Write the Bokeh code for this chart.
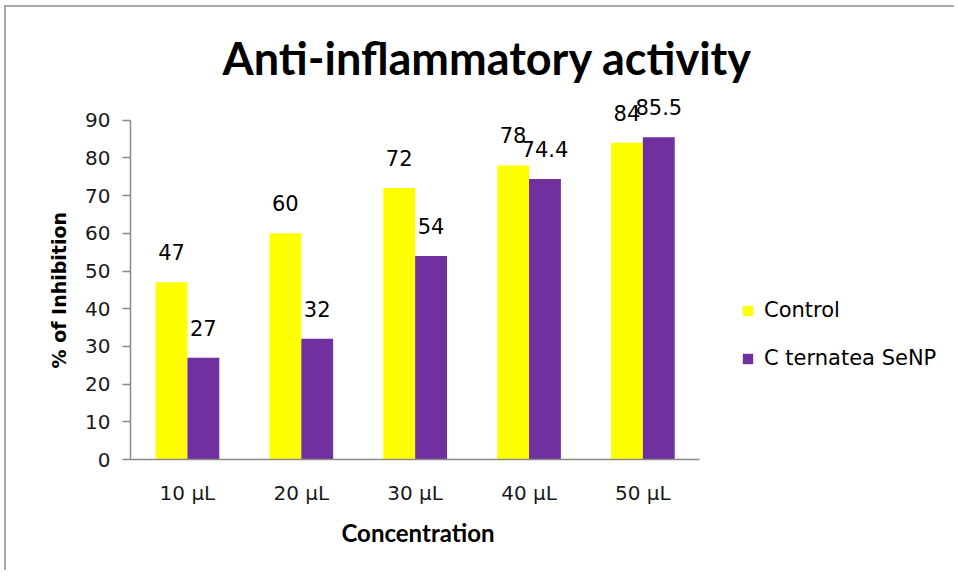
from bokeh.plotting import figure
from bokeh.models import (ColumnDataSource, Range1d, FixedTicker, Legend, LegendItem,
                          LabelSet, Title, InlineStyleSheet)
from bokeh.core.properties import value
from bokeh.transform import dodge
from bokeh.embed import file_html
from bokeh.resources import INLINE

categories = ["10 µL", "20 µL", "30 µL", "40 µL", "50 µL"]
control = [47, 60, 72, 78, 84]
senp = [27, 32, 54, 74.4, 85.5]
control_labels = ["47", "60", "72", "78", "84"]
senp_labels = ["27", "32", "54", "74.4", "85.5"]
y_ticks = [0, 10, 20, 30, 40, 50, 60, 70, 80, 90]

pos = [i + 0.5 for i in range(len(categories))]
src = ColumnDataSource(dict(x=pos, control=control, senp=senp,
                            cl=control_labels, sl=senp_labels))

W, H = 950, 565
left, bottom, top = 124, 113, 75
cat_px = 113.86
x_end = (W - left) / cat_px

css = InlineStyleSheet(css=":host { margin-left: 6px; margin-top: 7px; "
                           "box-shadow: -2px -2px 0px 0px #a8a8a8; }")

p = figure(x_range=Range1d(0, x_end), y_range=Range1d(0, 100), width=W, height=H,
           output_backend="svg", toolbar_location=None,
           min_border_left=left, min_border_right=0, min_border_top=top,
           min_border_bottom=bottom, title="Anti-inflammatory activity",
           stylesheets=[css])

p.title.text_font = "Lato"
p.title.text_font_style = "bold"
p.title.text_font_size = "45px"
p.title.align = "left"
p.title.offset = 92
p.title.standoff = -4
p.title.text_color = "#000000"

p.outline_line_color = None
p.xgrid.grid_line_color = None
p.ygrid.grid_line_color = None
p.background_fill_color = "white"
p.border_fill_color = "white"

w = 0.28
r1 = p.vbar(x=dodge("x", -0.14), top="control", width=w, source=src,
            fill_color="#FFFF00", line_color=None)
r2 = p.vbar(x=dodge("x", 0.14), top="senp", width=w, source=src,
            fill_color="#7030A0", line_color=None)

for xo, col, lab in [(-0.14, "control", "cl"), (0.14, "senp", "sl")]:
    ls = LabelSet(x=dodge("x", xo), y=col, text=lab, source=src,
                  y_offset=22, text_align="center", text_baseline="alphabetic",
                  text_font=value("DejaVu Sans"), text_font_size="21px",
                  text_color="#000000")
    p.add_layout(ls)

ya = p.yaxis[0]
ya.ticker = FixedTicker(ticks=y_ticks)
ya.bounds = (0, 90)
ya.axis_line_color = "#8a8a8a"
ya.axis_line_width = 1.5
ya.major_tick_line_color = "#8a8a8a"
ya.major_tick_line_width = 1.5
ya.major_tick_out = 8
ya.major_tick_in = 0
ya.minor_tick_line_color = None
ya.major_label_text_font = "DejaVu Sans"
ya.major_label_text_font_size = "20px"
ya.major_label_text_color = "#1a1a1a"
ya.major_label_standoff = 12

xa = p.xaxis[0]
xa.ticker = FixedTicker(ticks=pos)
xa.major_label_overrides = {x: c for x, c in zip(pos, categories)}
xa.bounds = (0, len(categories))
xa.axis_line_color = "#8a8a8a"
xa.axis_line_width = 1.5
xa.major_tick_line_color = None
xa.minor_tick_line_color = None
xa.major_tick_out = 0
xa.major_tick_in = 0
xa.major_label_text_font = "DejaVu Sans"
xa.major_label_text_font_size = "20px"
xa.major_label_text_color = "#1a1a1a"
xa.major_label_standoff = 21

ytitle = Title(text="% of Inhibition", align="left", offset=91, standoff=25,
               text_font="DejaVu Sans", text_font_style="bold",
               text_font_size="19px", text_color="#000000")
p.add_layout(ytitle, "left")

xtitle = Title(text="Concentration", align="left", offset=211, standoff=16,
               text_font="Lato", text_font_style="bold",
               text_font_size="24px", text_color="#000000")
p.add_layout(xtitle, "below")

legend = Legend(items=[LegendItem(label="Control", renderers=[r1]),
                       LegendItem(label="C ternatea SeNP", renderers=[r2])],
                location=(611, 89))
legend.padding = 0
legend.margin = 0
legend.border_line_color = None
legend.background_fill_alpha = 0
legend.glyph_width = 13
legend.glyph_height = 13
legend.label_height = 24
legend.label_standoff = 10
legend.spacing = 24
legend.label_text_font = "DejaVu Sans"
legend.label_text_font_size = "21px"
legend.label_text_color = "#000000"
p.add_layout(legend)

open("out.html", "w").write(file_html(p, INLINE))
